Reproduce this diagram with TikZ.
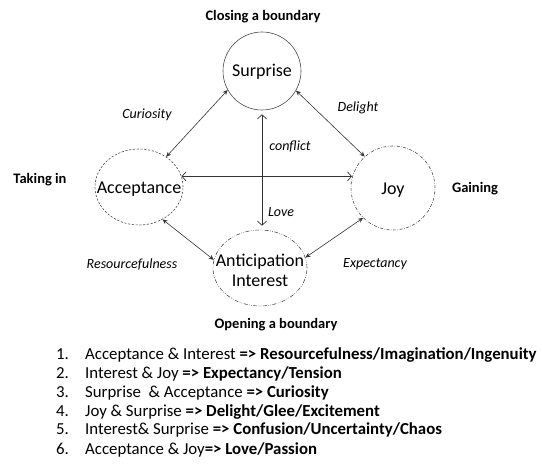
\documentclass[tikz,border=0pt]{standalone}
\usepackage{fontspec}
\setmainfont{Carlito}
\usetikzlibrary{arrows.meta,shapes.geometric}

\begin{document}
\begin{tikzpicture}[x=1pt,y=-1pt,
  ring/.style={ellipse, draw=black!70, line width=0.6pt, inner sep=0pt},
  emo/.style={font=\fontsize{18}{21}\selectfont, inner sep=0pt, align=center},
  pair/.style={font=\fontsize{14}{16}\selectfont\itshape, inner sep=0pt},
  side/.style={font=\fontsize{14.5}{16}\selectfont\bfseries, inner sep=0pt},
  link/.style={draw=black!80, line width=0.6pt,
    {Stealth[length=5pt,width=4.5pt]}-{Stealth[length=5pt,width=4.5pt]}},
  axis/.style={draw=black!80, line width=0.7pt,
    {Straight Barb[length=4pt,width=9pt]}-{Straight Barb[length=4pt,width=9pt]}},
  num/.style={font=\fontsize{16.8}{19}\selectfont, anchor=base west, inner sep=0pt},
  item/.style={font=\fontsize{16.8}{19}\selectfont, anchor=base west, inner sep=0pt}]
\useasboundingbox (0,0) rectangle (542,468);

% the four emotions
\node[ring, minimum width=78pt, minimum height=78pt] (sur) at (262,71) {};
\node[ring, dashed, dash pattern=on 2.2pt off 1.6pt, minimum width=88pt, minimum height=76pt] (acc) at (139,187) {};
\node[ring, dash pattern=on 3pt off 1.5pt on 0.6pt off 1.5pt, minimum width=84pt, minimum height=84pt] (joy) at (393,188) {};
\node[ring, dash pattern=on 4pt off 1.5pt on 0.6pt off 1.5pt on 0.6pt off 1.5pt, minimum width=94pt, minimum height=76pt] (ant) at (260,268) {};

\node[emo] (surT) at (262,72) {Surprise};
\node[emo] (accT) at (139,189) {Acceptance};
\node[emo] (joyT) at (393,190) {Joy};
\node[emo] (antT) at (260,270) {Anticipation\\[-1pt]Interest};

% connectors
\draw[link] (sur.209) -- (acc.48);
\draw[link] (sur.330) -- (joy.132);
\draw[link] (acc.306) -- (ant.170);
\draw[link] (joy.225) -- (ant.13);
\draw[axis] (acc.14) -- (acc.14 -| joy.166);
\draw[axis, shorten <=4pt, shorten >=4pt] (sur.south) -- (sur.south |- ant.north);

% pair names
\node[pair] (cur) at (147,115) {Curiosity};
\node[pair] (del) at (358,108) {Delight};
\node[pair] (con) at (290,147) {conflict};
\node[pair] (lov) at (281,212) {Love};
\node[pair] (res) at (132,264) {Resourcefulness};
\node[pair] (exp) at (375,264) {Expectancy};

% boundary names
\node[side] (close) at (263,17) {Closing a boundary};
\node[side] (take) at (40,180) {Taking in};
\node[side] (gain) at (475,189) {Gaining};
\node[side] (open) at (276,325) {Opening a boundary};

% list of combinations
\node[num] (n1) at (56,359.5) {1.};
\node[num] (n2) at (56,378.5) {2.};
\node[num] (n3) at (56,397.5) {3.};
\node[num] (n4) at (56,416.5) {4.};
\node[num] (n5) at (56,434.5) {5.};
\node[num] (n6) at (56,454.5) {6.};
\node[item] (l1) at (85,359.5) {Acceptance \& Interest \textbf{=> Resourcefulness/Imagination/Ingenuity}};
\node[item] (l2) at (85,378.5) {Interest \& Joy \textbf{=> Expectancy/Tension}};
\node[item] (l3) at (85,397.5) {Surprise\ \ \& Acceptance \textbf{=> Curiosity}};
\node[item] (l4) at (85,416.5) {Joy \& Surprise \textbf{=> Delight/Glee/Excitement}};
\node[item] (l5) at (85,434.5) {Interest\& Surprise \textbf{=> Confusion/Uncertainty/Chaos}};
\node[item] (l6) at (85,454.5) {Acceptance \& Joy\textbf{=> Love/Passion}};
\end{tikzpicture}
\end{document}
